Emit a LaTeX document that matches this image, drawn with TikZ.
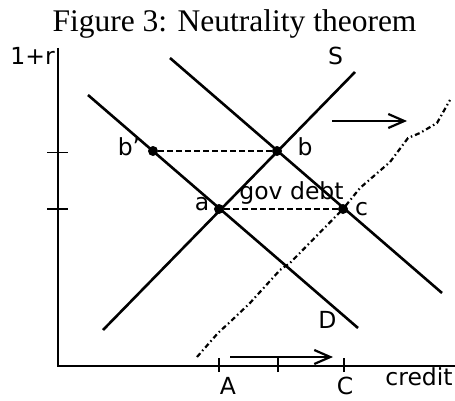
\documentclass[tikz,border=0pt]{standalone}
\usepackage{fontspec}
\setmainfont{DejaVu Sans}
\newfontfamily\titlefont{Liberation Serif}
\usetikzlibrary{arrows.meta}
\begin{document}
\begin{tikzpicture}[x=1pt,y=1pt,
  curveline/.style={line width=2.6pt},
  axisline/.style={line width=2.2pt},
  tickline/.style={line width=1.8pt},
  guide/.style={line width=1.6pt, dash pattern=on 6pt off 3pt},
  shifted/.style={line width=2.2pt, dash pattern=on 5pt off 3pt on 1.5pt off 3pt},
  dot/.style={circle, fill, inner sep=0pt, minimum size=10pt},
  lbl/.style={font=\fontsize{23.5}{27}\selectfont, inner sep=0pt, anchor=base},
  shiftarrow/.style={line width=2.2pt, -{Straight Barb[length=16pt,width=14pt,line width=2.2pt]}}
]
\useasboundingbox (0,0) rectangle (455,400);
% title
\node[font=\titlefont\fontsize{31.5}{36}\selectfont, anchor=base, inner sep=0pt] (title) at (234.5,368) {Figure 3: Neutrality theorem};
% axes
\coordinate (O) at (58,34);
\coordinate (Ytop) at (58,352);
\coordinate (Xend) at (455,34);
\draw[axisline] (Ytop) -- (O) -- (Xend);
% y ticks
\coordinate (yt1l) at (47,247.5); \coordinate (yt1r) at (68,247.5);
\coordinate (yt2l) at (47,191); \coordinate (yt2r) at (68,191);
\draw[tickline] (yt1l) -- (yt1r);
\draw[tickline] (yt2l) -- (yt2r);
% x ticks
\coordinate (xtAb) at (219,28); \coordinate (xtAt) at (219,42);
\coordinate (xtMb) at (278,28); \coordinate (xtMt) at (278,42);
\coordinate (xtCb) at (344,28); \coordinate (xtCt) at (344,42);
\draw[tickline] (xtAb) -- (xtAt);
\draw[tickline] (xtMb) -- (xtMt);
\draw[tickline] (xtCb) -- (xtCt);
% curves
\coordinate (D1s) at (88,305); \coordinate (D1e) at (358,72);
\coordinate (D2s) at (170,342); \coordinate (D2e) at (442,107);
\coordinate (Ss) at (103,70); \coordinate (Se) at (355,328);
\draw[curveline] (D1s) -- (D1e);
\draw[curveline] (D2s) -- (D2e);
\draw[curveline] (Ss) -- (Se);
% points
\node[dot] (bp) at (153,249) {};
\node[dot] (b) at (277,249) {};
\node[dot] (a) at (219,191) {};
\node[dot] (c) at (343,191) {};
\draw[guide] (bp) -- (b);
\draw[guide] (a) -- (c);
% shifted supply
\coordinate (Sh1) at (197,43);
\coordinate (Sh2) at (450,300);
\draw[shifted] (Sh1) -- (218,67) -- (230,78) -- (250,97) -- (280,130) -- (290,137) -- (c.center) -- (360,212) -- (390,238) -- (408,262) -- (420,267) -- (437,277) -- (Sh2);
% arrows
\coordinate (ua1) at (332,279); \coordinate (ua2) at (407,279);
\coordinate (la1) at (230,43); \coordinate (la2) at (333,43);
\draw[shiftarrow] (ua1) -- (ua2);
\draw[shiftarrow] (la1) -- (la2);
% labels
\node[lbl, anchor=base east] (ylab) at (55,335) {1+r};
\node[lbl] (Slab) at (335.5,335) {S};
\node[lbl] (bplab) at (129,245) {b’};
\node[lbl] (blab) at (305,245) {b};
\node[lbl] (alab) at (202,190) {a};
\node[lbl] (govlab) at (291.5,200.5) {gov debt};
\node[lbl] (clab) at (361.5,185) {c};
\node[lbl] (Dlab) at (327.5,72) {D};
\node[lbl] (Alab) at (228,6) {A};
\node[lbl] (Clab) at (345,6) {C};
\node[lbl] (xlab) at (419,15) {credit};
\end{tikzpicture}
\end{document}
